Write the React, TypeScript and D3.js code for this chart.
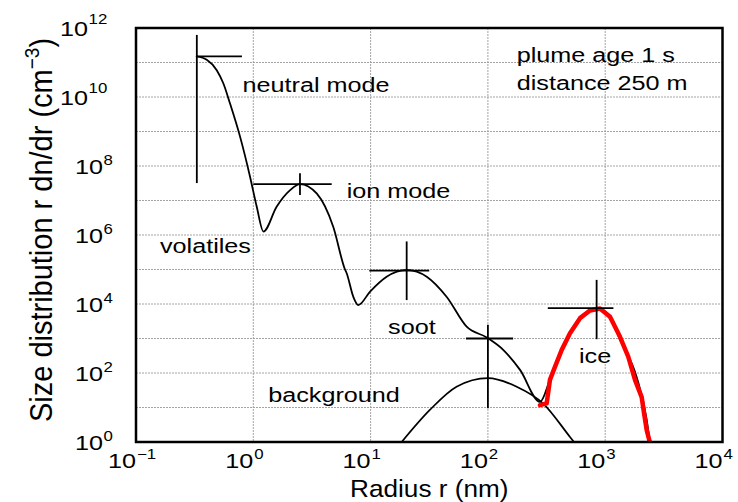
import * as d3 from 'd3';

// radius (nm) and r dn/dr (cm^-3)
const TOTAL_R = [0.329, 0.401, 0.488, 0.555, 0.632, 0.771, 0.938, 1.07, 1.22, 1.58, 2.06, 2.5, 3.47, 4.81, 6.05, 6.25, 7.13, 7.85, 9.9, 13.7, 20.3, 30.1, 44.6, 65.9, 97.7, 135, 188, 278, 338, 426, 501, 610, 741, 845, 1100, 1340, 1850, 2260, 2400];
const TOTAL_V = [1.5e11, 1.2e11, 6.0e10, 2.5e10, 6.6e9, 7.1e8, 4.9e7, 6.6e6, 1.26e6, 6.6e6, 2.0e7, 3.0e7, 1.6e7, 1.7e6, 1.0e5, 7.8e4, 1.6e4, 9.3e3, 2.3e4, 6.2e4, 9.8e4, 6.2e4, 1.6e4, 2.2e3, 1.07e3, 4.7e2, 1.23e2, 14.5, 63, 470, 1.4e3, 3.9e3, 6.5e3, 7.4e3, 4.3e3, 910, 78, 4.4, 1];

const BG_R = [18.4, 32, 54, 100, 176, 296, 501, 542];
const BG_V = [1, 8.5, 40, 71, 40, 13, 1.4, 1];

const ICE_R = [278, 317, 338, 373, 426, 501, 610, 741, 902, 1099, 1337, 1574, 1795, 2046, 2143, 2259, 2399];
const ICE_V = [11.7, 13.2, 63, 151, 468, 1410, 3890, 6460, 7410, 4270, 1120, 295, 63, 20, 6.8, 2.2, 1.0];

// mode markers: centre radius, horizontal extent, vertical extent
const MODE_R = [0.33, 2.5, 20.3, 100, 845];
const MODE_V = [1.5e11, 3.0e7, 9.3e4, 1.0e3, 7.6e3];
const MODE_RSPAN = [[0.33, 0.8], [1.0, 4.66], [9.75, 31.6], [65, 164], [324, 1175]];
const MODE_VSPAN = [[6.3e11, 3.2e7], [6.2e7, 1.45e7], [6.5e5, 1.3e4], [2.5e3, 9.5], [5.0e4, 955]];

const LABELS = ['neutral mode', 'ion mode', 'volatiles', 'soot', 'ice', 'background', 'plume age 1 s', 'distance 250 m'];
const LABEL_R = [0.81, 6.25, 0.16, 14.1, 598, 1.34, 176, 176];
const LABEL_V = [1.4e10, 1.15e7, 2.95e5, 1.35e3, 191, 14.8, 1.05e11, 1.6e10];

const X_TICKS = [0.1, 1, 10, 100, 1000, 10000];
const X_EXP = ['\u22121', '0', '1', '2', '3', '4'];
const Y_TICKS = [1, 1e2, 1e4, 1e6, 1e8, 1e10, 1e12];
const Y_EXP = ['0', '2', '4', '6', '8', '10', '12'];
const Y_GRID = d3.range(0, 13).map(e => Math.pow(10, e));

const W = 738;
const H = 502;
const FONT = '"Liberation Sans", Arial, Helvetica, sans-serif';
const SX = 1.2;

export default function App() {
  const x = d3.scaleLog().domain([0.1, 1e4]).range([136, 722.5]);
  const y = d3.scaleLog().domain([1, 1e12]).range([442, 28]);
  const [x0, x1] = x.range();
  const [y0, y1] = y.range();

  const line = d3.line<[number, number]>()
    .x(d => x(d[0]))
    .y(d => y(d[1]))
    .curve(d3.curveMonotoneX);
  const rough = d3.line<[number, number]>()
    .x(d => x(d[0]))
    .y(d => y(d[1]))
    .curve(d3.curveLinear);

  const total = TOTAL_R.map((r, i) => [r, TOTAL_V[i]] as [number, number]);
  const bg = BG_R.map((r, i) => [r, BG_V[i]] as [number, number]);
  const ice = ICE_R.map((r, i) => [r, ICE_V[i]] as [number, number]);

  return (
    <svg width={W} height={H} style={{ position: 'absolute', left: 0, top: 0, background: '#fff' }} fontFamily={FONT}>
      <defs>
        <clipPath id="plot">
          <rect x={x0} y={y1} width={x1 - x0} height={y0 - y1} />
        </clipPath>
      </defs>

      {/* grid */}
      <g stroke="#9a9a9a" strokeWidth={0.9} strokeDasharray="2 1">
        {Y_GRID.map(v => (
          <line key={'gy' + v} x1={x0} x2={x1} y1={y(v)} y2={y(v)} />
        ))}
        {X_TICKS.map(t => (
          <line key={'gx' + t} x1={x(t)} x2={x(t)} y1={y1} y2={y0} />
        ))}
      </g>

      <g clipPath="url(#plot)" fill="none" strokeLinejoin="round" strokeLinecap="round">
        <path d={line(bg) ?? ''} stroke="#000" strokeWidth={1.7} />
        <path d={line(total) ?? ''} stroke="#000" strokeWidth={1.8} />
        <path d={rough(ice) ?? ''} stroke="#ff0000" strokeWidth={4.5} />
      </g>

      {/* mode crosses */}
      <g stroke="#000" strokeWidth={1.8}>
        {MODE_R.map((r, i) => (
          <g key={'m' + i}>
            <line x1={x(MODE_RSPAN[i][0])} x2={x(MODE_RSPAN[i][1])} y1={y(MODE_V[i])} y2={y(MODE_V[i])} />
            <line x1={x(r)} x2={x(r)} y1={y(MODE_VSPAN[i][0])} y2={y(MODE_VSPAN[i][1])} />
          </g>
        ))}
      </g>

      {/* annotations */}
      {LABELS.map((t, i) => (
        <g key={t} transform={`translate(${x(LABEL_R[i])},${y(LABEL_V[i])}) scale(${SX},1)`}>
          <text fontSize={21} fill="#000">{t}</text>
        </g>
      ))}

      <rect x={x0} y={y1} width={x1 - x0} height={y0 - y1} fill="none" stroke="#000" strokeWidth={2.5} />

      {/* x tick labels */}
      {X_TICKS.map((t, i) => (
        <g key={'xt' + t} transform={`translate(${x(t)},468.3) scale(${SX},1)`} fill="#000">
          <text fontSize={21} textAnchor="end">10</text>
          <text fontSize={14} x={0.8} y={-9.5}>{X_EXP[i]}</text>
        </g>
      ))}

      {/* y tick labels */}
      {Y_TICKS.map((t, i) => {
        const ax = Y_EXP[i].length > 1 ? 88 : 103;
        return (
          <g key={'yt' + t} transform={`translate(${ax},${y(t) + 8}) scale(${SX},1)`} fill="#000">
            <text fontSize={21} textAnchor="end">10</text>
            <text fontSize={14} x={0.5} y={Y_EXP[i].length > 1 ? -12.5 : -9}>{Y_EXP[i]}</text>
          </g>
        );
      })}

      <g transform={`translate(${(x0 + x1) / 2},496.5) scale(1.09,1)`}>
        <text fontSize={24} textAnchor="middle" fill="#000">Radius r (nm)</text>
      </g>

      <g transform={`translate(52,230) scale(1.1,1) rotate(-90)`}>
        <text fontSize={29} textAnchor="middle" fill="#000">
          Size distribution r dn/dr (cm<tspan fontSize={19} dy={-12}>{'\u22123'}</tspan><tspan dy={12}>)</tspan>
        </text>
      </g>
    </svg>
  );
}
